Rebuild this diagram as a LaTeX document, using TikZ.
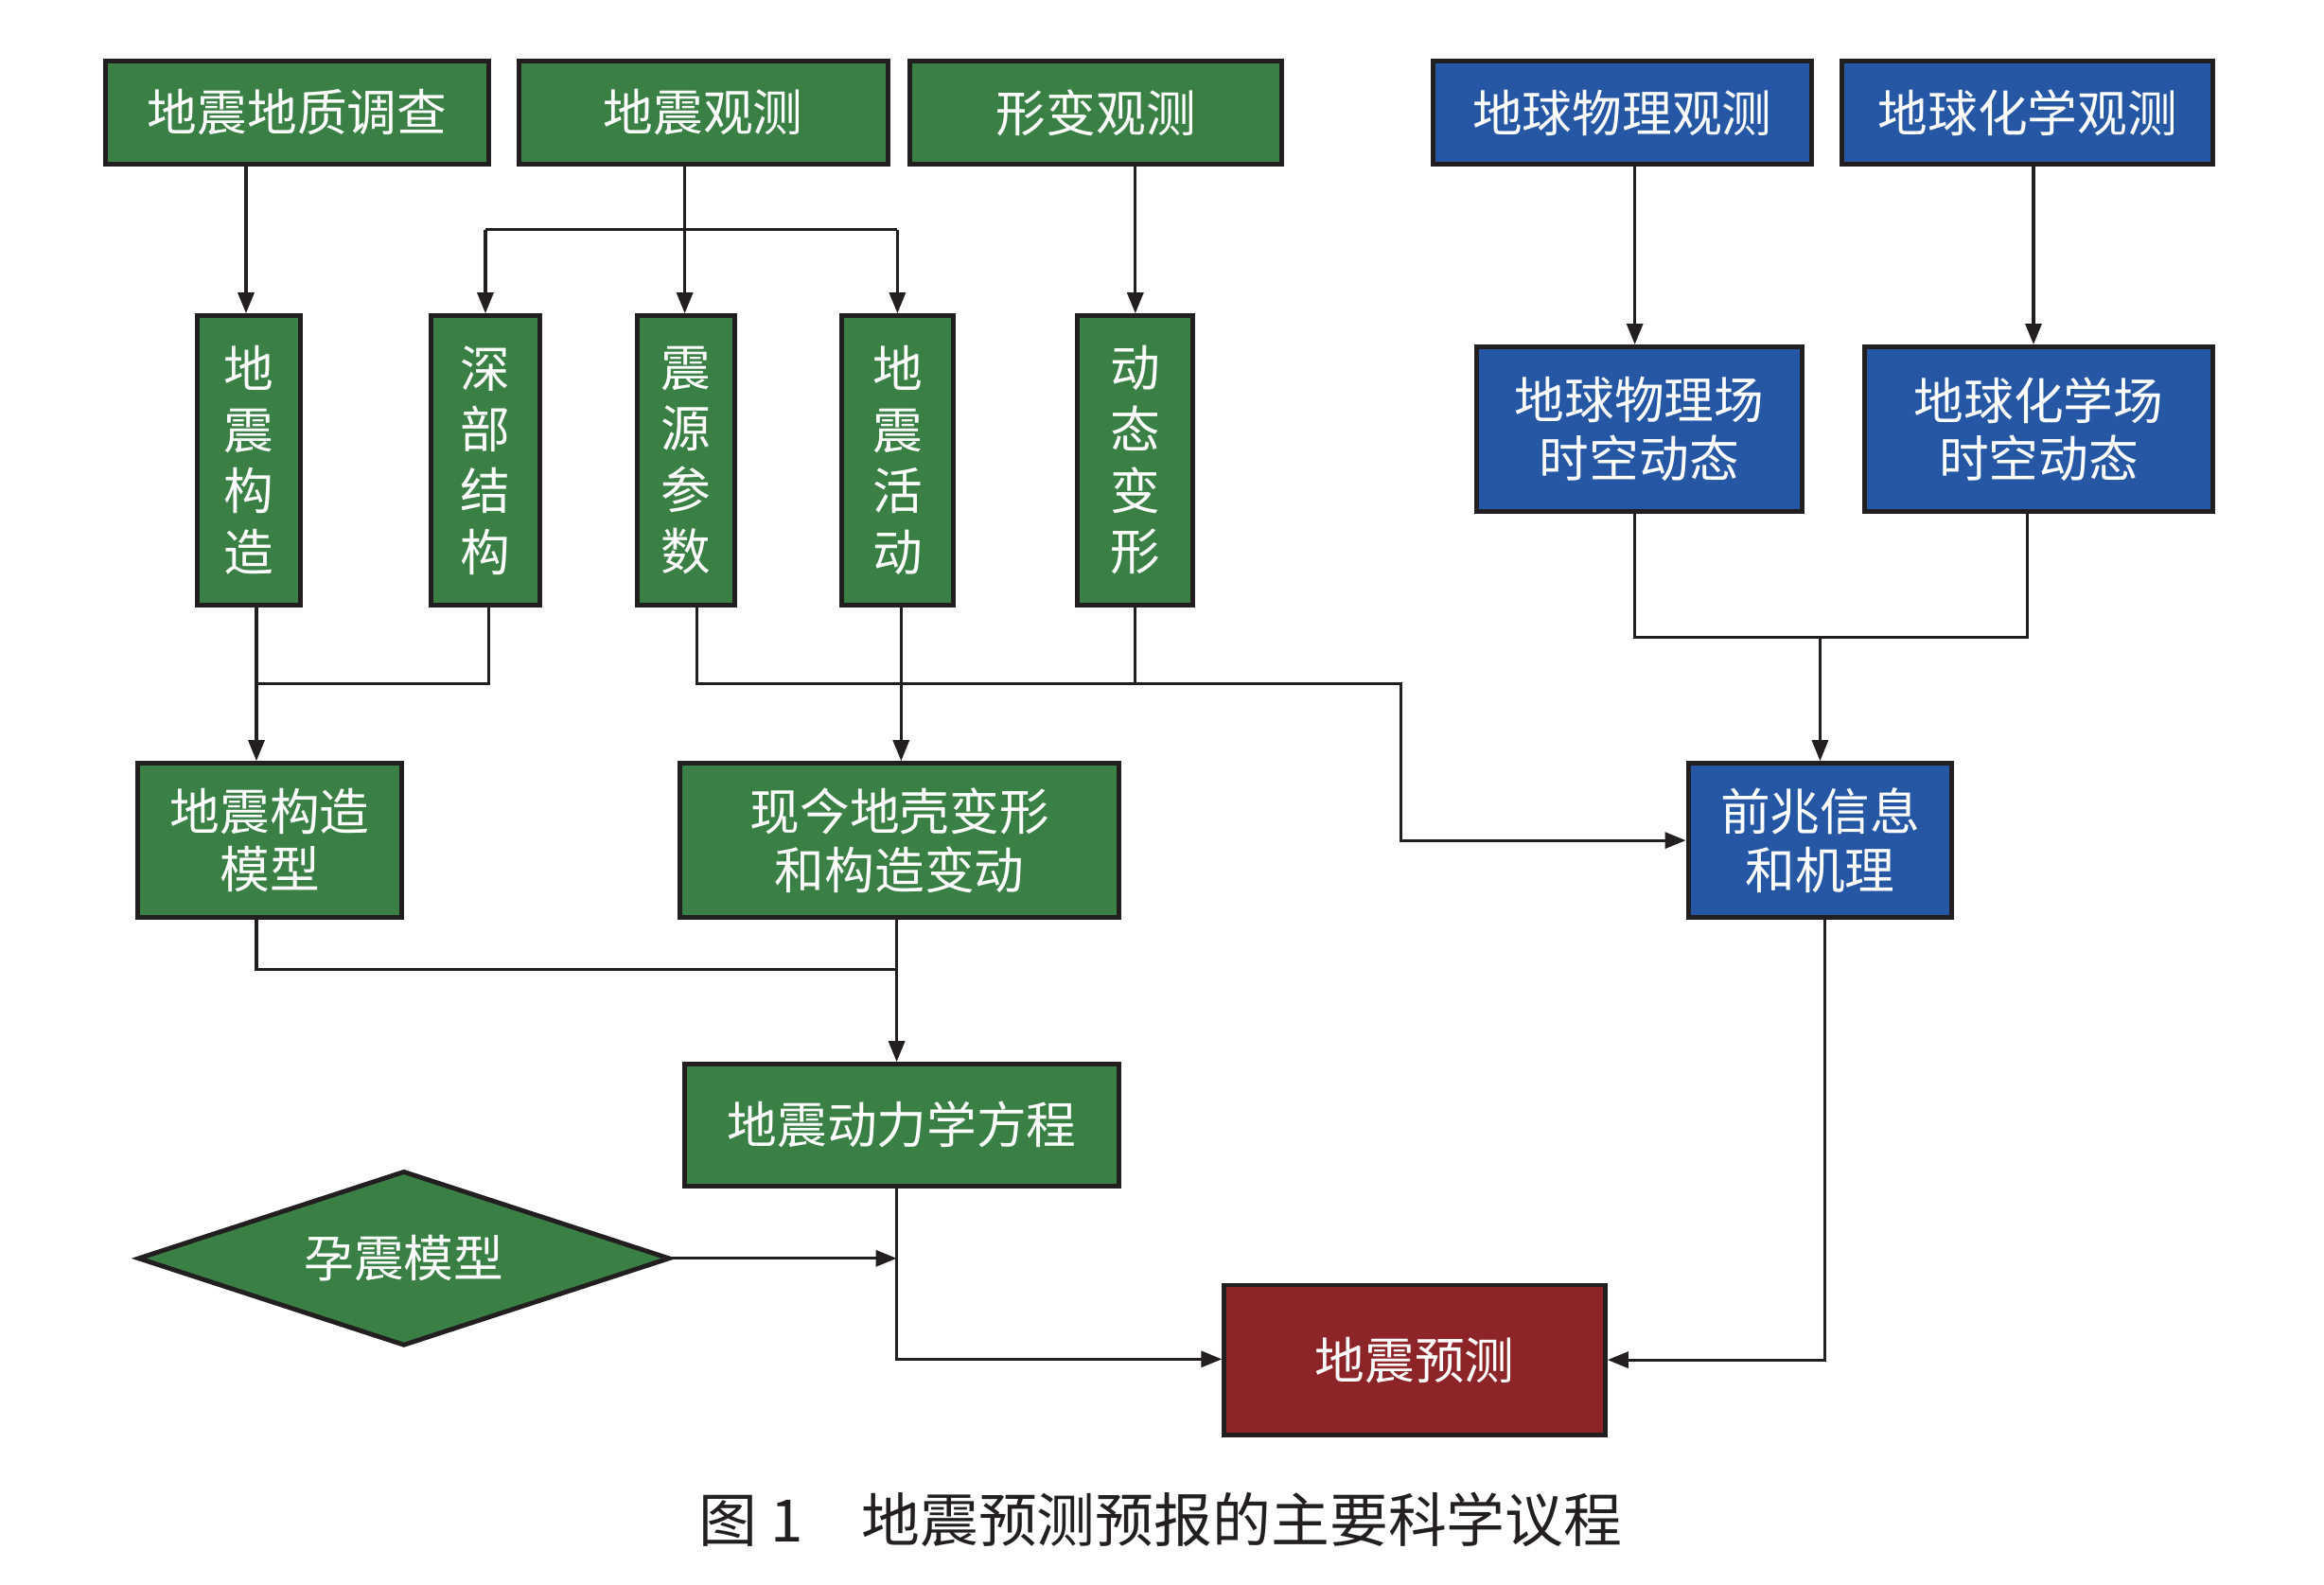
\documentclass[tikz,border=0pt]{standalone}
\usepackage{fontspec}
\newfontfamily\cjk{Noto Sans CJK SC}
\usetikzlibrary{arrows.meta,shapes.geometric}
\definecolor{gr}{RGB}{58,128,69}
\definecolor{bl}{RGB}{37,87,165}
\definecolor{rd}{RGB}{140,36,40}
\definecolor{lc}{RGB}{35,31,32}
\tikzset{
  box/.style={draw=lc, line width=1.4pt, text=white, inner sep=0pt, align=center,
    font=\cjk\fontsize{15}{17.5}\selectfont},
  gbox/.style={box, fill=gr},
  bbox/.style={box, fill=bl},
  rbox/.style={box, fill=rd},
  tall/.style={gbox, minimum height=30.54mm, font=\cjk\fontsize{15}{18.4}\selectfont},
  conn/.style={draw=lc, line width=0.9pt},
  arr/.style={conn, -{Triangle[length=2.2mm,width=1.7mm]}},
}
\begin{document}
\begin{tikzpicture}[x=0.15663mm, y=-0.15663mm]
\useasboundingbox (0,0) rectangle (1568,1069);
% top row
\node[gbox, minimum width=40.57mm, minimum height=10.96mm] (A) at (200.5,76) {地震地质调查};
\node[gbox, minimum width=39.0mm, minimum height=10.96mm] (B) at (474.5,76) {地震观测};
\node[gbox, minimum width=39.31mm, minimum height=10.96mm] (C) at (739.5,76) {形变观测};
\node[bbox, minimum width=39.94mm, minimum height=10.96mm] (D) at (1094.5,76) {地球物理观测};
\node[bbox, minimum width=39.16mm, minimum height=10.96mm] (E) at (1368,76) {地球化学观测};
% tall boxes
\node[tall, minimum width=10.96mm] (t1) at (168,310.5) {地\\震\\构\\造};
\node[tall, minimum width=11.43mm] (t2) at (327.5,310.5) {深\\部\\结\\构};
\node[tall, minimum width=10.34mm] (t3) at (463,310.5) {震\\源\\参\\数};
\node[tall, minimum width=11.75mm] (t4) at (605.5,310.5) {地\\震\\活\\动};
\node[tall, minimum width=12.22mm] (t5) at (766,310.5) {动\\态\\变\\形};
% blue middle
\node[bbox, minimum width=34.46mm, minimum height=17.39mm] (F) at (1106,289.5) {地球物理场\\时空动态};
\node[bbox, minimum width=36.81mm, minimum height=17.39mm] (G) at (1375.5,289.5) {地球化学场\\时空动态};
% row 3
\node[gbox, minimum width=27.88mm, minimum height=16.29mm] (H) at (182,567) {地震构造\\模型};
\node[gbox, minimum width=46.36mm, minimum height=16.29mm] (I) at (607,567) {现今地壳变形\\和构造变动};
\node[bbox, minimum width=27.88mm, minimum height=16.29mm] (J) at (1228,567) {前兆信息\\和机理};
% row 4
\node[gbox, minimum width=45.89mm, minimum height=12.84mm] (K) at (608.5,759) {地震动力学方程};
\node[gbox, diamond, shape aspect=3.05, minimum width=56.23mm, minimum height=18.48mm] (L) at (272.5,849) {孕震模型};
\node[rbox, minimum width=40.25mm, minimum height=15.82mm] (M) at (954.5,917.5) {地震预测};
% caption
\node[font=\cjk\fontsize{17.6}{20}\selectfont, text=lc, inner sep=0pt] (cap) at (783,1025) {图 1\quad 地震预测预报的主要科学议程};
% coordinates
\coordinate (bj) at (462,155);
\coordinate (j1) at (173,461);
\coordinate (jx) at (945,461);
\coordinate (fg) at (1103,430);
\coordinate (hk) at (605,654);
\coordinate (kd) at (605,800);
\coordinate (kb) at (605,917);
% connectors
\draw[arr] (A.south -| 166,0) -- (t1.north -| 166,0);
\draw[arr] (B.south -| bj) -- (t3.north -| bj);
\draw[conn] (t2.north |- bj) -- (t4.north |- bj);
\draw[arr] (t2.north |- bj) -- (t2.north);
\draw[arr] (t4.north |- bj) -- (t4.north);
\draw[arr] (C.south -| t5) -- (t5.north);
\draw[arr] (D.south -| fg) -- (F.north -| fg);
\draw[arr] (E.south -| 1372,0) -- (G.north -| 1372,0);
\draw[conn] (F.south -| fg) -- (fg) -- (fg -| 1368,0) -- (G.south -| 1368,0);
\draw[arr] (fg -| J) -- (J.north);
\draw[conn] (t2.south -| 330,0) -- (j1 -| 330,0) -- (j1);
\draw[arr] (t1.south -| j1) -- (H.north -| j1);
\draw[arr] (t3.south -| 470,0) -- (jx -| 470,0) -- (jx) -- (jx |- J.west) -- (J.west);
\draw[conn] (t5.south) -- (t5.south |- jx);
\draw[arr] (t4.south -| 608,0) -- (I.north -| 608,0);
\draw[conn] (H.south -| j1) -- (hk -| j1) -- (hk);
\draw[arr] (I.south -| hk) -- (K.north -| hk);
\draw[arr] (L.east) -- (L.east -| kd);
\draw[arr] (K.south -| kd) -- (kb) -- (M.west |- kb);
\draw[arr] (J.south -| 1231,0) -- (M.east -| 1231,0) -- (M.east);
\end{tikzpicture}
\end{document}
